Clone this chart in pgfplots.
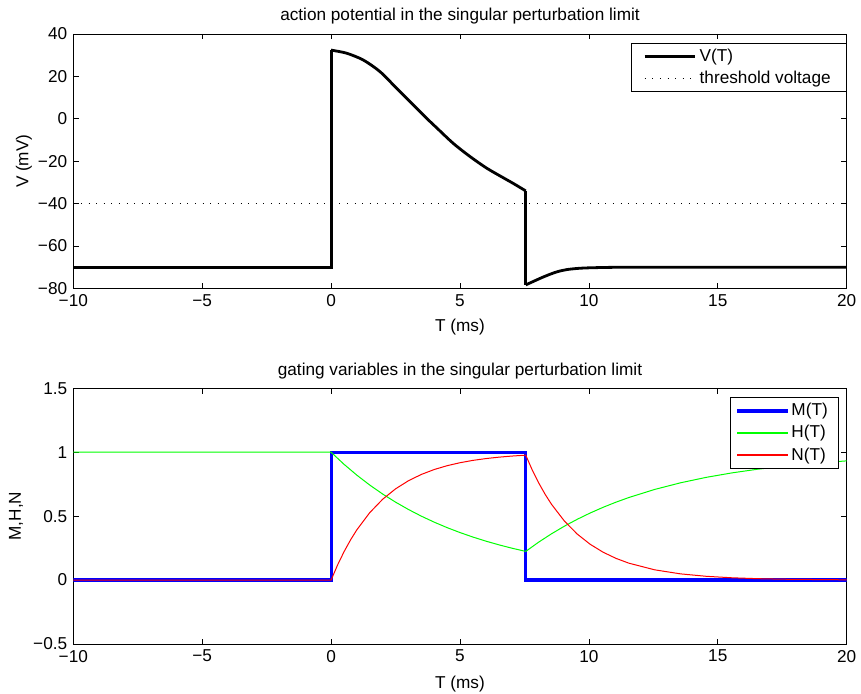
\documentclass[border=0pt]{standalone}
\usepackage{fontspec}
\setmainfont{Liberation Sans}
\usepackage{pgfplots}
\pgfplotsset{compat=1.18}
\definecolor{mblue}{RGB}{0,0,255}
\definecolor{hgreen}{RGB}{0,255,0}
\definecolor{nred}{RGB}{255,0,0}
\begin{document}
\fontsize{8.6}{10}\selectfont
\begin{tikzpicture}
\useasboundingbox (-36.65pt,-25pt) rectangle (393.85pt,322pt);
\pgfplotsset{
  mat/.style={
    scale only axis, width=386.7pt,
    xmin=-10, xmax=20,
    xtick={-10,-5,0,5,10,15,20},
    xticklabels={−10,−5,0,5,10,15,20},
    tick align=inside, tick pos=both,
    major tick length=2.7pt,
    every tick/.style={black, line width=0.4pt},
    axis line style={line width=0.4pt},
    font=\fontsize{8.6}{10}\selectfont,
    xlabel={T (ms)},
    title style={at={(0.5,1)}, anchor=base, yshift=0.5pt},
    legend cell align=left,
    legend style={draw=black, line width=0.4pt, fill=white, inner xsep=4.5pt, inner ysep=1pt,
      nodes={inner sep=1.8pt, text depth=0.15em}},
  },
  vst/.style={draw=black, line width=1.4pt, line join=miter},
}
% top axis
\begin{axis}[mat,
  at={(0pt,177.75pt)}, height=127.25pt,
  ymin=-80, ymax=40,
  ytick={-80,-60,-40,-20,0,20,40},
  yticklabels={−80,−60,−40,−20,0,20,40},
  ylabel={V (mV)},
  ylabel style={at={(axis description cs:-0.064,0.5)}, anchor=center},
  xlabel style={at={(axis description cs:0.5,0)}, anchor=base, yshift=-21.5pt},
  title={action potential in the singular perturbation limit},
  legend style={at={(axis description cs:1,0.966)}, anchor=north east, inner xsep=6pt},
  legend image code/.code={\draw[#1] (0pt,0pt) -- (25pt,0pt);},
]
\addplot[vst] coordinates {(-10,-70) (0,-70) (0,32.4)};
\addlegendentry{V(T)}
\addplot[draw=black, line width=0.5pt, dash pattern=on 0.5pt off 3.3pt] coordinates {(-10,-40) (20,-40)};
\addlegendentry{threshold voltage}
\addplot[vst, smooth, tension=0.5, forget plot] coordinates {
(0,32.4) (0.09,32.2) (0.61,30.9) (1.25,27.7) (1.9,22.2) (2.54,14.4) (3.19,6.5)
(3.71,0.2) (4.1,-4.3) (4.74,-11.6) (5.39,-17.8) (6.04,-23.3) (6.68,-27.8)
(7.1,-30.7) (7.55,-34.0)
};
\addplot[vst, forget plot] coordinates {(7.55,-34.0) (7.55,-78.3)};
\addplot[vst, smooth, tension=0.5, forget plot] coordinates {
(7.55,-78.3) (7.84,-76.7) (8.15,-75.0) (8.49,-73.3) (8.8,-72.0) (9.14,-71.1) (9.5,-70.6)
(9.91,-70.3) (10.8,-70.05) (12,-70) (20,-70)
};
\end{axis}
% bottom axis
\begin{axis}[mat,
  at={(0pt,0pt)}, height=127.85pt,
  ymin=-0.5, ymax=1.5,
  ytick={-0.5,0,0.5,1,1.5},
  yticklabels={−0.5,0,0.5,1,1.5},
  ylabel={M,H,N},
  ylabel style={at={(axis description cs:-0.074,0.5)}, anchor=center},
  xlabel style={at={(axis description cs:0.5,0)}, anchor=base, yshift=-22.5pt},
  title={gating variables in the singular perturbation limit},
  legend style={at={(axis description cs:0.9897,0.965)}, anchor=north east, inner xsep=3.5pt},
]
\addlegendimage{legend image code/.code={\fill[mblue] (0pt,-0.8pt) rectangle (25pt,0.8pt);}}
\addlegendentry{M(T)}
\addlegendimage{legend image code/.code={\fill[hgreen] (0pt,-0.3pt) rectangle (25pt,0.3pt);}}
\addlegendentry{H(T)}
\addlegendimage{legend image code/.code={\fill[nred] (0pt,-0.3pt) rectangle (25pt,0.3pt);}}
\addlegendentry{N(T)}
\addplot[draw=mblue, line width=1.6pt, forget plot] coordinates {
(-10,0) (0,0) (0,1) (7.55,1) (7.55,0) (20,0)
};
\addplot[draw=hgreen, line width=0.5pt, forget plot] coordinates {
(-10,1) (0,1) (0.5,0.9057) (1,0.8204) (1.5,0.7430) (2,0.6730) (2.5,0.6096)
(3,0.5521) (3.5,0.5000) (4,0.4529) (4.5,0.4102) (5,0.3716) (5.5,0.3366)
(6,0.3048) (6.5,0.2761) (7,0.2501) (7.55,0.2242)
(8.05,0.2965) (8.55,0.362) (9.05,0.4217) (9.55,0.4757) (10.05,0.5246)
(10.55,0.569) (11.05,0.6093) (11.55,0.6457) (12.55,0.7088) (13.55,0.7606)
(14.55,0.8034) (15.55,0.8384) (16.55,0.8672) (17.55,0.8908) (18.55,0.9102) (20,0.9324)
};
\addplot[draw=nred, line width=0.5pt, forget plot] coordinates {
(-10,0) (0,0) (0.25,0.1175) (0.5,0.2212) (0.75,0.3127) (1,0.3935) (1.5,0.5276)
(2,0.6321) (2.5,0.7135) (3,0.7769) (3.5,0.8262) (4,0.8647) (4.5,0.8946)
(5,0.9179) (5.5,0.9361) (6,0.9502) (6.5,0.9612) (7,0.9698) (7.55,0.9771)
(7.8,0.862) (8.05,0.761) (8.3,0.6715) (8.55,0.5926) (9.05,0.4615) (9.55,0.3594)
(10.05,0.2799) (10.55,0.218) (11.05,0.1698) (11.55,0.1322) (12.55,0.0802)
(13.55,0.0486) (14.55,0.0295) (15.55,0.0179) (16.55,0.0109) (17.55,0.0066) (20,0.0019)
};
\end{axis}
\end{tikzpicture}
\end{document}
